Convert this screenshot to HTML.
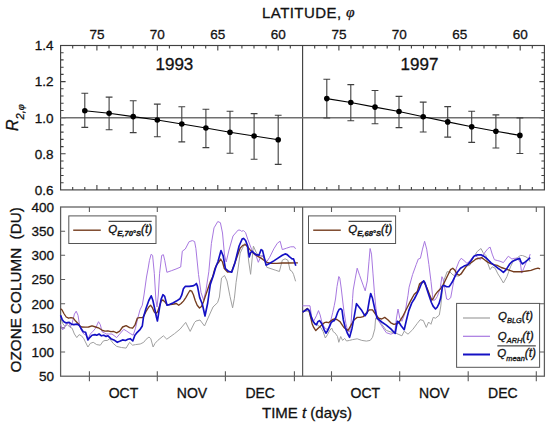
<!DOCTYPE html>
<html><head><meta charset="utf-8"><style>
html,body{margin:0;padding:0;background:#fff;}
svg{display:block;}
svg{font-family:"Liberation Sans",sans-serif;} text{fill:#111;stroke:#111;stroke-width:0.3px;}
</style></head><body>
<svg width="550" height="426" viewBox="0 0 550 426">
<rect width="550" height="426" fill="#fff"/>
<rect x="60.6" y="45.5" width="483.8" height="144.4" fill="none" stroke="#404040" stroke-width="1.15"/>
<line x1="302.6" y1="45.5" x2="302.6" y2="189.9" stroke="#404040" stroke-width="1.15"/>
<rect x="60.6" y="207.0" width="483.8" height="169.2" fill="none" stroke="#5c5c5c" stroke-width="1.25"/>
<line x1="302.6" y1="207.0" x2="302.6" y2="376.2" stroke="#5c5c5c" stroke-width="1.25"/>
<path d="M72.7,45.5v3M72.7,189.9v-3M84.8,45.5v3M84.8,189.9v-3M96.9,45.5v5M96.9,189.9v-5M109.0,45.5v3M109.0,189.9v-3M121.1,45.5v3M121.1,189.9v-3M133.1,45.5v3M133.1,189.9v-3M145.2,45.5v3M145.2,189.9v-3M157.3,45.5v5M157.3,189.9v-5M169.4,45.5v3M169.4,189.9v-3M181.5,45.5v3M181.5,189.9v-3M193.6,45.5v3M193.6,189.9v-3M205.7,45.5v3M205.7,189.9v-3M217.8,45.5v5M217.8,189.9v-5M229.9,45.5v3M229.9,189.9v-3M241.9,45.5v3M241.9,189.9v-3M254.0,45.5v3M254.0,189.9v-3M266.1,45.5v3M266.1,189.9v-3M278.2,45.5v5M278.2,189.9v-5M290.3,45.5v3M290.3,189.9v-3M314.7,45.5v3M314.7,189.9v-3M326.8,45.5v3M326.8,189.9v-3M338.9,45.5v5M338.9,189.9v-5M351.0,45.5v3M351.0,189.9v-3M363.1,45.5v3M363.1,189.9v-3M375.1,45.5v3M375.1,189.9v-3M387.2,45.5v3M387.2,189.9v-3M399.3,45.5v5M399.3,189.9v-5M411.4,45.5v3M411.4,189.9v-3M423.5,45.5v3M423.5,189.9v-3M435.6,45.5v3M435.6,189.9v-3M447.7,45.5v3M447.7,189.9v-3M459.8,45.5v5M459.8,189.9v-5M471.9,45.5v3M471.9,189.9v-3M484.0,45.5v3M484.0,189.9v-3M496.0,45.5v3M496.0,189.9v-3M508.1,45.5v3M508.1,189.9v-3M520.2,45.5v5M520.2,189.9v-5M532.3,45.5v3M532.3,189.9v-3M60.6,52.7h3M544.4,52.7h-3M60.6,59.9h3M544.4,59.9h-3M60.6,67.2h3M544.4,67.2h-3M60.6,74.4h3M544.4,74.4h-3M60.6,81.6h5M544.4,81.6h-5M60.6,88.8h3M544.4,88.8h-3M60.6,96.0h3M544.4,96.0h-3M60.6,103.3h3M544.4,103.3h-3M60.6,110.5h3M544.4,110.5h-3M60.6,117.7h5M544.4,117.7h-5M60.6,124.9h3M544.4,124.9h-3M60.6,132.1h3M544.4,132.1h-3M60.6,139.4h3M544.4,139.4h-3M60.6,146.6h3M544.4,146.6h-3M60.6,153.8h5M544.4,153.8h-5M60.6,161.0h3M544.4,161.0h-3M60.6,168.2h3M544.4,168.2h-3M60.6,175.5h3M544.4,175.5h-3M60.6,182.7h3M544.4,182.7h-3" stroke="#404040" stroke-width="1.1" fill="none"/>
<path d="M60.6,231.2h4.5M60.6,255.3h4.5M544.4,255.3h-4.5M60.6,279.5h4.5M60.6,303.7h4.5M544.4,303.7h-4.5M60.6,327.9h4.5M60.6,352.0h4.5M544.4,352.0h-4.5M89.4,207.0v5M89.4,371.2v10M157.3,207.0v5M157.3,371.2v10M225.4,207.0v5M225.4,371.2v10M294.4,207.0v5M294.4,371.2v10M331.5,207.0v5M331.5,371.2v10M399.7,207.0v5M399.7,371.2v10M468.2,207.0v5M468.2,371.2v10M536.3,207.0v5M536.3,371.2v10" stroke="#5c5c5c" stroke-width="1.1" fill="none"/>
<line x1="60.6" y1="117.7" x2="544.4" y2="117.7" stroke="#707070" stroke-width="1.6"/>
<path d="M84.8,93.3V127.4M81.4,93.3h6.8M81.4,127.4h6.8M109.1,97.1V129.7M105.7,97.1h6.8M105.7,129.7h6.8M133.2,100.7V132.6M129.8,100.7h6.8M129.8,132.6h6.8M157.3,104.1V136.7M153.9,104.1h6.8M153.9,136.7h6.8M181.8,106.7V141.9M178.4,106.7h6.8M178.4,141.9h6.8M205.9,109.3V147.6M202.5,109.3h6.8M202.5,147.6h6.8M230,111.2V153.3M226.6,111.2h6.8M226.6,153.3h6.8M254.1,113.6V159.2M250.7,113.6h6.8M250.7,159.2h6.8M278.2,115.2V164.4M274.8,115.2h6.8M274.8,164.4h6.8" stroke="#404040" stroke-width="1.1" fill="none"/>
<polyline points="84.8,110.7 109.1,113.2 133.2,116.6 157.3,120.0 181.8,124.0 205.9,128.0 230.0,132.2 254.1,136.0 278.2,139.8" stroke="#000" stroke-width="1.1" fill="none"/>
<circle cx="84.8" cy="110.7" r="2.8" fill="#000"/>
<circle cx="109.1" cy="113.2" r="2.8" fill="#000"/>
<circle cx="133.2" cy="116.6" r="2.8" fill="#000"/>
<circle cx="157.3" cy="120" r="2.8" fill="#000"/>
<circle cx="181.8" cy="124" r="2.8" fill="#000"/>
<circle cx="205.9" cy="128" r="2.8" fill="#000"/>
<circle cx="230" cy="132.2" r="2.8" fill="#000"/>
<circle cx="254.1" cy="136" r="2.8" fill="#000"/>
<circle cx="278.2" cy="139.8" r="2.8" fill="#000"/>
<path d="M326.8,79.2V118M323.4,79.2h6.8M323.4,118h6.8M350.8,84.6V120.8M347.4,84.6h6.8M347.4,120.8h6.8M375,90.5V123.7M371.6,90.5h6.8M371.6,123.7h6.8M399,96.4V127.6M395.6,96.4h6.8M395.6,127.6h6.8M423.2,102.1V132M419.8,102.1h6.8M419.8,132h6.8M447.7,106.6V137.1M444.3,106.6h6.8M444.3,137.1h6.8M471.7,111.2V142.4M468.3,111.2h6.8M468.3,142.4h6.8M495.9,114.9V148M492.5,114.9h6.8M492.5,148h6.8M519.9,117.9V153.5M516.5,117.9h6.8M516.5,153.5h6.8" stroke="#404040" stroke-width="1.1" fill="none"/>
<polyline points="326.8,98.6 350.8,102.5 375.0,107.1 399.0,111.5 423.2,116.7 447.7,121.9 471.7,126.7 495.9,131.2 519.9,135.4" stroke="#000" stroke-width="1.1" fill="none"/>
<circle cx="326.8" cy="98.6" r="2.8" fill="#000"/>
<circle cx="350.8" cy="102.5" r="2.8" fill="#000"/>
<circle cx="375" cy="107.1" r="2.8" fill="#000"/>
<circle cx="399" cy="111.5" r="2.8" fill="#000"/>
<circle cx="423.2" cy="116.7" r="2.8" fill="#000"/>
<circle cx="447.7" cy="121.9" r="2.8" fill="#000"/>
<circle cx="471.7" cy="126.7" r="2.8" fill="#000"/>
<circle cx="495.9" cy="131.2" r="2.8" fill="#000"/>
<circle cx="519.9" cy="135.4" r="2.8" fill="#000"/>
<polyline points="60.6,317.6 62.7,323.5 65.0,326.4 67.4,324.6 69.7,327.0 72.1,328.2 74.4,334.0 76.8,337.6 79.1,334.6 81.5,335.8 83.8,338.7 87.9,347.0 90.3,343.4 93.2,342.3 96.7,344.6 100.3,345.2 103.2,341.1 105.0,340.5 107.3,340.5 109.7,338.7 113.2,343.4 116.7,346.4 121.4,347.5 126.1,348.1 129.6,342.3 132.6,345.2 135.5,344.6 140.2,344.0 143.7,342.3 146.1,339.3 149.0,337.0 150.8,338.7 153.1,347.0 155.0,343.4 157.9,340.3 163.4,335.8 166.8,339.2 174.6,333.6 180.1,329.1 185.7,322.4 190.2,331.4 194.6,322.4 196.0,321.0 200.0,320.0 204.5,326.0 208.5,317.0 213.0,307.0 217.6,302.6 219.4,297.0 221.5,278.0 224.5,275.5 227.0,281.0 230.0,296.4 232.6,307.9 234.4,298.2 236.1,282.3 237.9,270.0 240.2,253.0 242.1,248.9 244.9,243.3 247.0,246.1 248.8,262.0 250.6,274.3 252.0,260.0 253.4,246.1 256.0,252.0 258.3,255.3 262.0,256.0 264.0,258.0 266.8,267.3 271.0,268.7 275.2,270.1 279.4,271.5 282.3,260.2 285.1,258.8 287.9,260.2 290.0,270.1 292.1,271.5 293.5,274.3 295.6,281.3" stroke="#a0a0a0" stroke-width="1" fill="none" stroke-linejoin="round"/>
<polyline points="60.6,324.6 62.7,329.9 64.5,327.0 66.8,323.5 69.2,322.9 70.3,327.0 72.1,323.5 74.4,314.1 76.2,311.2 78.0,315.3 79.7,325.8 81.5,330.5 83.8,334.0 86.2,335.2 87.9,339.0 90.3,334.0 93.2,331.1 95.6,328.2 98.5,321.7 100.3,324.6 102.0,331.7 104.4,332.9 106.1,334.0 108.5,334.0 112.0,334.0 116.7,337.6 119.7,334.0 123.8,329.3 126.7,331.1 130.2,333.5 133.2,335.2 135.5,328.2 137.8,318.0 140.0,309.9 142.3,305.2 144.0,295.0 146.5,277.0 148.2,268.0 149.4,260.7 151.1,254.3 152.6,255.4 154.3,273.3 155.9,300.0 157.0,307.0 158.3,295.0 159.6,273.3 161.7,255.4 163.4,254.7 164.8,260.7 166.9,272.3 171.7,270.6 176.0,269.0 180.7,267.0 182.3,251.2 185.3,249.0 189.1,241.7 192.3,240.6 194.6,241.5 195.9,248.5 198.5,274.4 201.0,292.4 203.6,300.2 206.0,290.0 208.8,271.8 211.4,243.4 214.0,227.9 217.8,221.5 220.4,222.7 222.5,233.0 224.5,255.0 226.2,262.0 229.0,250.0 233.0,236.0 238.1,230.1 240.2,230.1 241.4,231.3 243.5,230.6 245.6,232.7 247.7,239.1 252.0,250.4 254.1,254.6 256.2,256.0 258.3,262.3 260.4,257.4 262.5,255.0 264.6,258.8 266.8,261.6 269.6,257.4 273.8,248.9 277.3,243.3 280.1,241.2 282.3,249.6 286.5,248.2 290.7,246.8 294.2,246.8 295.6,248.9" stroke="#a878e0" stroke-width="1" fill="none" stroke-linejoin="round"/>
<polyline points="60.6,308.8 62.1,310.0 63.9,313.5 66.2,317.0 68.6,318.2 70.9,317.6 73.3,318.2 75.6,321.1 78.0,323.5 79.7,325.8 81.5,327.0 85.0,327.2 88.5,327.0 92.0,325.8 95.6,327.0 99.1,328.2 102.6,330.5 105.0,331.1 107.9,330.8 110.9,331.7 113.8,331.5 116.7,332.9 119.7,331.1 122.6,327.0 126.1,325.6 129.6,327.6 132.6,328.2 134.9,325.2 137.3,318.2 139.6,317.6 142.9,317.6 145.9,311.7 148.8,307.0 150.6,305.2 152.3,307.6 154.1,311.7 155.9,313.4 157.6,311.7 159.4,306.4 161.1,301.1 162.9,299.9 164.7,301.7 167.0,304.6 170.5,304.6 174.0,304.0 176.4,303.5 178.7,305.2 181.1,303.5 183.4,301.1 185.8,297.6 188.1,293.5 189.9,290.5 191.7,291.1 193.4,294.7 195.2,300.5 197.2,305.3 199.5,308.0 201.5,306.5 203.5,301.7 205.3,296.4 208.5,287.0 210.6,281.0 212.6,277.0 214.8,269.0 216.5,265.0 219.0,261.8 220.6,259.0 222.5,262.0 224.3,268.5 227.5,272.0 231.7,271.5 236.0,259.7 240.2,248.1 242.8,245.4 245.6,244.7 247.7,246.8 249.9,249.6 252.7,252.5 255.5,254.6 258.3,256.7 261.1,258.1 263.9,260.2 266.8,262.3 271.0,263.3 276.6,263.3 282.3,263.0 289.3,263.0 297.9,262.8" stroke="#743c1e" stroke-width="1.35" fill="none" stroke-linejoin="round"/>
<polyline points="60.6,315.3 62.1,319.4 63.9,321.7 66.2,322.9 69.2,322.3 71.5,324.1 73.8,324.6 76.8,324.1 79.1,325.2 80.9,328.2 83.2,331.7 85.6,332.3 87.9,339.9 89.7,337.6 92.0,335.2 95.0,334.6 96.7,335.2 99.1,334.0 101.4,335.8 103.8,335.2 106.1,336.4 108.0,335.8 110.9,338.7 113.8,339.9 117.3,342.3 120.3,341.1 122.6,339.9 125.5,340.5 127.9,339.3 130.2,338.7 132.8,341.0 134.9,335.2 136.7,332.9 140.2,329.3 142.3,326.0 143.5,317.0 145.9,308.7 148.8,300.5 151.2,295.8 152.9,300.5 154.7,308.7 156.4,317.0 157.4,321.0 159.4,308.7 161.1,299.4 162.9,294.7 164.7,296.4 167.0,305.2 169.4,304.6 172.9,302.9 176.4,301.1 179.9,298.8 181.7,295.2 183.4,288.8 185.2,286.4 189.3,286.4 192.8,285.9 195.2,284.7 196.4,283.5 197.5,286.4 199.7,297.6 202.3,304.0 205.0,316.0 207.7,303.0 210.3,284.5 213.5,275.0 215.5,268.0 218.0,261.5 221.0,250.5 223.2,256.0 225.4,268.5 228.6,271.3 231.7,272.2 234.9,262.9 239.1,246.0 242.1,239.1 243.5,238.4 245.6,240.5 247.7,246.1 249.2,257.0 250.5,253.0 252.0,251.1 254.1,253.2 256.2,254.6 259.0,255.3 261.1,249.6 262.5,250.4 263.9,256.0 266.1,265.1 267.5,264.4 270.3,263.0 273.8,260.9 278.0,258.1 282.3,255.3 285.1,253.9 287.2,254.6 289.3,256.7 292.1,258.8 293.5,258.8 294.9,263.0 295.8,265.8" stroke="#1410c4" stroke-width="1.65" fill="none" stroke-linejoin="round"/>
<polyline points="302.6,312.0 305.0,311.0 309.0,311.3 310.6,318.0 312.7,321.1 315.0,323.5 317.9,325.3 321.1,328.0 323.2,331.7 325.3,338.0 327.4,334.8 329.6,330.6 331.7,328.0 333.2,331.7 334.8,332.7 336.4,334.8 337.5,336.5 338.8,342.3 340.7,336.5 342.6,340.4 344.6,338.4 346.5,341.0 349.6,340.4 352.6,339.6 357.2,338.8 361.8,340.4 366.4,341.1 370.2,340.4 372.5,337.3 374.8,328.9 375.6,318.2 378.0,320.0 381.7,324.3 386.3,330.4 390.8,332.0 395.0,332.7 398.1,334.2 401.9,335.8 404.2,331.2 408.0,334.2 412.6,329.7 417.2,323.5 420.2,319.7 423.3,320.5 426.3,327.4 428.6,322.0 430.9,324.3 433.2,317.4 435.5,318.2 439.3,315.1 440.8,306.0 442.4,289.2 444.0,280.0 447.1,271.7 450.0,272.0 453.0,275.0 456.0,276.0 459.1,276.0 462.0,272.0 466.2,266.1 469.7,265.4 473.0,258.0 477.4,251.3 481.0,248.5 483.1,252.7 485.9,255.5 488.0,264.0 490.1,269.6 492.2,266.8 495.1,268.2 497.9,273.9 500.5,278.0 503.4,283.0 506.9,276.7 510.5,266.8 514.0,259.7 517.5,257.6 520.3,255.5 522.4,255.5 526.0,256.9 528.8,259.0 530.2,261.9" stroke="#a0a0a0" stroke-width="1" fill="none" stroke-linejoin="round"/>
<polyline points="302.6,305.8 310.0,305.8 311.6,316.9 313.7,321.1 316.4,315.8 318.5,310.6 320.1,314.8 321.6,321.1 323.2,325.3 325.3,328.5 327.4,329.6 329.0,326.4 330.6,321.1 332.7,312.7 334.3,305.3 335.5,299.0 337.0,286.5 338.8,276.5 339.8,278.1 341.2,288.0 342.6,300.0 344.0,312.0 345.9,323.6 347.8,331.3 349.6,332.0 351.1,322.8 352.6,298.3 353.2,290.0 355.3,278.1 357.2,268.2 359.6,275.3 363.1,285.1 365.2,290.8 367.3,280.9 369.0,261.2 370.1,248.5 371.5,254.1 373.0,273.9 374.4,292.2 375.6,305.0 377.1,318.2 381.7,325.8 386.3,332.7 390.8,334.2 394.7,332.7 396.5,318.0 398.0,309.0 399.8,318.0 401.9,321.3 404.9,313.6 408.0,295.3 409.1,287.2 412.6,274.5 416.2,264.6 418.3,259.0 420.4,258.3 422.5,249.1 424.6,241.3 426.7,249.1 428.9,264.6 431.0,281.5 432.4,294.2 433.1,300.2 435.0,300.0 437.2,296.7 440.2,288.5 441.9,276.7 443.1,279.1 444.8,288.5 446.6,299.0 448.4,299.6 450.7,297.8 453.5,282.3 456.3,268.2 459.1,261.2 461.2,258.3 464.0,260.5 466.9,263.3 469.7,261.2 472.5,257.6 475.3,255.5 478.1,257.6 480.3,259.7 482.4,256.2 485.2,252.0 488.0,248.5 490.1,247.1 492.2,254.1 494.4,259.7 497.2,260.5 500.0,261.2 503.4,262.6 508.3,256.2 511.9,259.0 514.7,258.3 517.5,258.3 520.3,262.6 521.7,273.1 523.8,268.2 526.7,261.2 528.8,258.3 530.2,254.1" stroke="#a878e0" stroke-width="1" fill="none" stroke-linejoin="round"/>
<polyline points="302.6,312.1 304.2,311.1 305.8,309.5 307.4,308.4 309.0,310.6 310.6,316.9 312.1,323.7 313.7,327.4 315.8,330.6 317.9,328.5 320.1,326.4 322.2,324.8 324.3,322.7 326.4,322.2 328.5,322.7 330.6,321.1 332.7,319.5 334.8,319.0 336.9,319.5 340.0,321.6 341.3,323.6 343.9,327.5 346.5,329.4 348.1,330.4 351.1,325.1 354.2,319.7 357.2,317.4 360.3,317.4 363.3,316.7 366.4,312.8 369.4,309.8 372.5,309.8 375.6,314.4 378.6,318.2 381.7,319.0 384.7,317.4 387.8,319.7 390.8,322.8 393.9,324.3 397.7,323.5 399.6,321.3 402.6,316.7 406.5,309.0 410.3,301.4 414.1,294.5 417.3,291.4 419.6,283.8 422.0,282.0 423.7,281.4 427.0,288.0 429.5,294.5 431.9,300.2 433.7,297.8 435.5,294.3 437.8,291.4 440.7,288.5 443.1,284.9 445.4,280.2 447.8,275.3 450.6,269.6 452.8,268.2 454.9,270.3 457.0,273.9 459.1,275.3 461.2,273.9 464.0,269.6 467.6,264.7 470.4,263.3 473.2,261.2 476.0,259.0 478.9,258.3 481.7,257.6 484.5,259.7 487.3,261.9 490.1,263.3 493.7,264.7 497.2,265.4 501.3,267.5 505.5,268.9 509.7,270.3 513.3,271.7 518.2,271.7 522.4,271.7 526.7,271.0 530.9,270.3 535.1,268.9 538.0,268.2 540.1,268.9" stroke="#743c1e" stroke-width="1.35" fill="none" stroke-linejoin="round"/>
<polyline points="302.6,312.0 305.3,310.6 307.4,309.0 309.5,310.6 311.1,316.4 312.7,320.6 314.8,323.7 316.4,324.8 317.9,321.6 319.5,320.6 321.1,322.7 322.7,325.9 324.3,330.1 325.9,333.2 327.4,331.1 329.6,326.4 331.1,322.7 332.7,321.1 334.3,320.6 335.9,317.4 337.5,312.7 339.1,309.5 340.7,308.7 342.0,310.0 343.3,319.7 345.2,327.5 347.3,333.0 349.6,337.3 351.9,328.9 354.2,316.7 356.5,303.7 358.8,306.7 361.8,310.6 364.9,315.9 367.2,312.8 369.4,299.9 370.7,293.5 372.5,298.3 374.8,309.0 377.1,318.2 381.7,322.0 386.3,325.1 390.8,328.9 395.2,333.5 397.3,321.3 398.8,322.0 401.1,325.8 404.2,329.7 406.5,319.7 408.8,310.6 411.8,302.9 414.3,299.0 416.7,294.3 419.0,289.6 421.4,283.8 423.7,280.8 424.9,282.6 426.7,288.5 429.0,295.5 431.4,302.5 433.1,306.1 435.5,309.0 437.2,307.2 439.0,303.7 440.7,297.8 442.5,286.1 444.3,285.5 446.6,286.7 449.0,286.7 450.7,284.4 452.1,282.3 454.9,276.7 457.7,271.7 460.5,268.2 464.0,266.1 467.6,264.7 471.1,260.5 473.9,256.2 477.4,254.8 481.0,254.8 483.8,256.2 487.3,259.0 490.8,262.6 494.4,265.4 497.9,268.2 500.0,269.6 503.4,272.4 506.2,269.6 509.7,264.0 512.6,261.2 516.1,259.7 519.6,258.3 521.0,261.9 522.4,264.0 525.3,261.9 528.1,259.7 530.2,257.6" stroke="#1410c4" stroke-width="1.65" fill="none" stroke-linejoin="round"/>
<rect x="68.8" y="215.9" width="87.2" height="27.6" fill="#fff" stroke="#555" stroke-width="1"/>
<line x1="73.2" y1="230.2" x2="100.8" y2="230.2" stroke="#743c1e" stroke-width="1.4"/>
<rect x="308.5" y="215.9" width="87.1" height="27.6" fill="#fff" stroke="#555" stroke-width="1"/>
<line x1="313.2" y1="230.2" x2="340.8" y2="230.2" stroke="#743c1e" stroke-width="1.4"/>
<rect x="456.6" y="303.4" width="83" height="63.9" fill="#fff" stroke="#555" stroke-width="1"/>
<line x1="463" y1="318" x2="490" y2="318" stroke="#a0a0a0" stroke-width="1.2"/>
<line x1="463" y1="336.3" x2="490" y2="336.3" stroke="#a878e0" stroke-width="1.2"/>
<line x1="463" y1="354.5" x2="490" y2="354.5" stroke="#1410c4" stroke-width="2"/>
<path d="M108.5,221.3H151.7M348.5,221.3H391.7M497.3,345.9H535.8" stroke="#222" stroke-width="1"/>
<text x="96.9" y="38.7" text-anchor="middle" font-size="13.5">75</text>
<text x="157.3" y="38.7" text-anchor="middle" font-size="13.5">70</text>
<text x="217.8" y="38.7" text-anchor="middle" font-size="13.5">65</text>
<text x="278.2" y="38.7" text-anchor="middle" font-size="13.5">60</text>
<text x="338.9" y="38.7" text-anchor="middle" font-size="13.5">75</text>
<text x="399.3" y="38.7" text-anchor="middle" font-size="13.5">70</text>
<text x="459.8" y="38.7" text-anchor="middle" font-size="13.5">65</text>
<text x="520.2" y="38.7" text-anchor="middle" font-size="13.5">60</text>
<text x="53.5" y="50.3" text-anchor="end" font-size="13.5">1.4</text>
<text x="53.5" y="86.4" text-anchor="end" font-size="13.5">1.2</text>
<text x="53.5" y="122.5" text-anchor="end" font-size="13.5">1.0</text>
<text x="53.5" y="158.6" text-anchor="end" font-size="13.5">0.8</text>
<text x="53.5" y="194.7" text-anchor="end" font-size="13.5">0.6</text>
<text x="54" y="211.8" text-anchor="end" font-size="13.5">400</text>
<text x="54" y="236.0" text-anchor="end" font-size="13.5">350</text>
<text x="54" y="260.1" text-anchor="end" font-size="13.5">300</text>
<text x="54" y="284.3" text-anchor="end" font-size="13.5">250</text>
<text x="54" y="308.5" text-anchor="end" font-size="13.5">200</text>
<text x="54" y="332.7" text-anchor="end" font-size="13.5">150</text>
<text x="54" y="356.8" text-anchor="end" font-size="13.5">100</text>
<text x="54" y="381.0" text-anchor="end" font-size="13.5">50</text>
<text x="262" y="17.8" font-size="15" letter-spacing="0.45">LATITUDE,</text><text x="345.9" y="17.2" font-size="15.5" font-family="Liberation Serif, serif" font-style="italic">φ</text>
<text x="155.5" y="70.4" font-size="17">1993</text>
<text x="400.6" y="70.2" font-size="17">1997</text>
<text x="123.5" y="398" text-anchor="middle" font-size="14">OCT</text>
<text x="192" y="398" text-anchor="middle" font-size="14">NOV</text>
<text x="260.2" y="398" text-anchor="middle" font-size="14">DEC</text>
<text x="365.3" y="398" text-anchor="middle" font-size="14">OCT</text>
<text x="434.2" y="398" text-anchor="middle" font-size="14">NOV</text>
<text x="502.8" y="398" text-anchor="middle" font-size="14">DEC</text>
<text x="262" y="418.2" font-size="15">TIME <tspan font-style="italic">t</tspan> (days)</text>
<text transform="translate(20.5,372.4) rotate(-90)" font-size="15.25" xml:space="preserve">OZONE COLUMN  (DU)</text>
<text transform="translate(18,131) rotate(-90)" font-size="16" font-style="italic">R<tspan font-size="11" dy="6">2,</tspan><tspan font-size="11" font-family="Liberation Serif, serif">φ</tspan></text>
<text x="108.3" y="232.6" font-size="11.5" font-style="italic">Q<tspan font-size="7.6" dy="3.3" font-weight="bold">E,70°S</tspan><tspan dy="-3.3" font-size="12" font-weight="normal">(t)</tspan></text>
<text x="348.3" y="232.6" font-size="11.5" font-style="italic">Q<tspan font-size="7.6" dy="3.3" font-weight="bold">E,68°S</tspan><tspan dy="-3.3" font-size="12" font-weight="normal">(t)</tspan></text>
<text x="498" y="319.8" font-size="11.5" font-style="italic">Q<tspan font-size="7.4" dy="3.3">BLG</tspan><tspan dy="-3.3" font-size="12" font-weight="normal">(t)</tspan></text>
<text x="497.8" y="340" font-size="11.5" font-style="italic">Q<tspan font-size="7.4" dy="3.3">ARH</tspan><tspan dy="-3.3" font-size="12" font-weight="normal">(t)</tspan></text>
<text x="497.3" y="357.2" font-size="11.5" font-style="italic">Q<tspan font-size="7.4" dy="3.3">mean</tspan><tspan dy="-3.3" font-size="12" font-weight="normal">(t)</tspan></text>
</svg>
</body></html>
